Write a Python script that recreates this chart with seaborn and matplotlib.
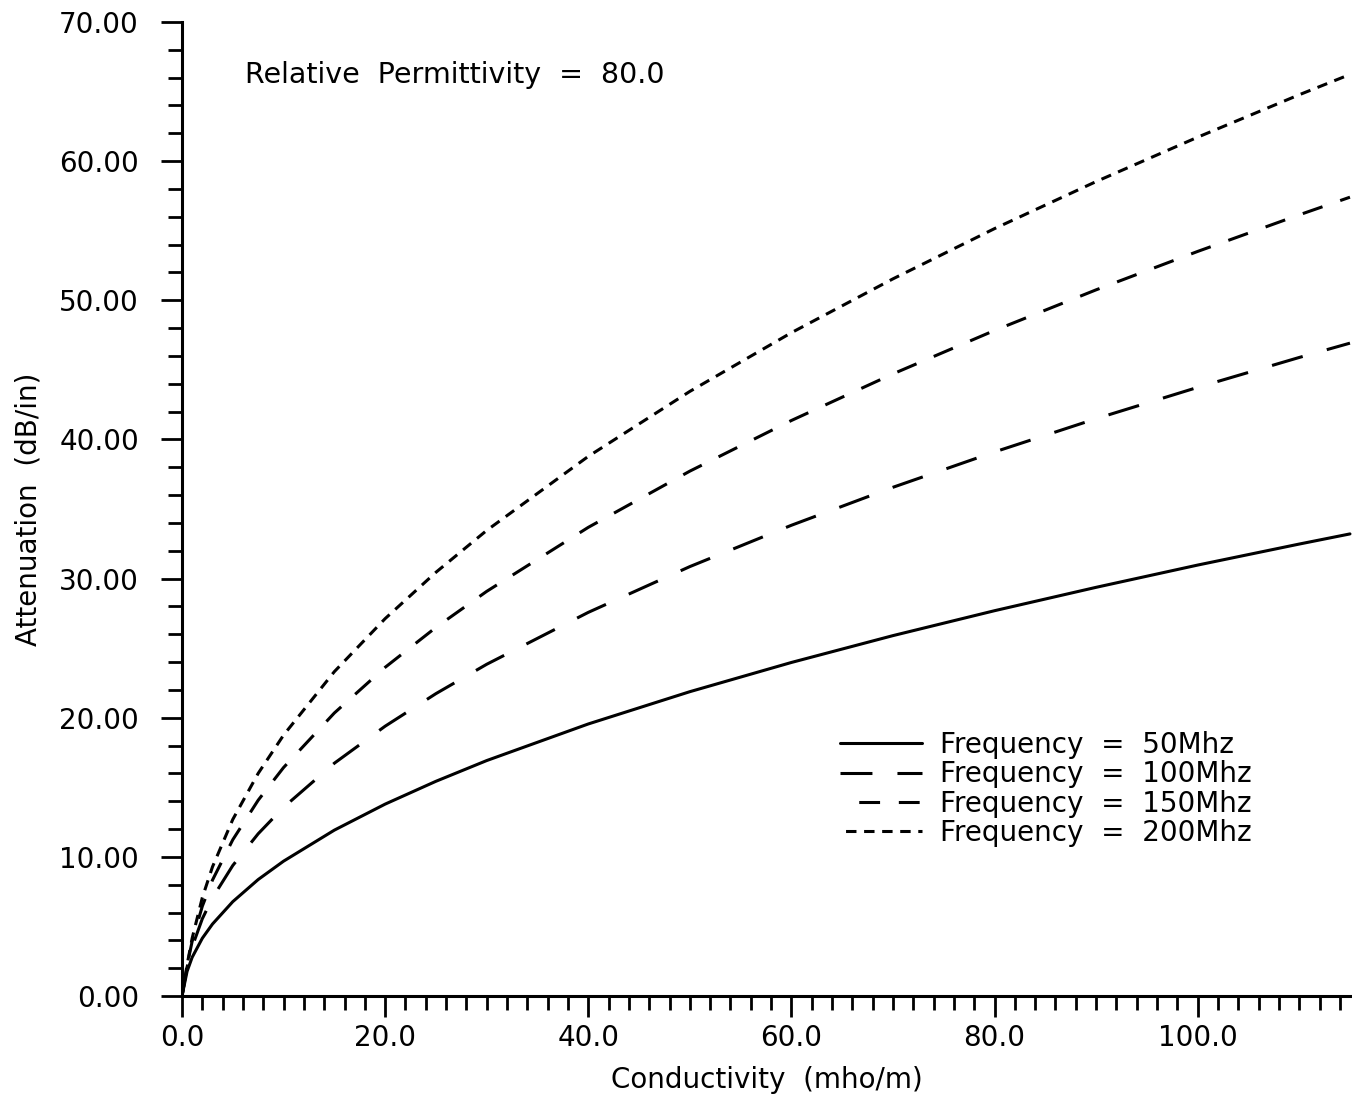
import matplotlib
matplotlib.use("Agg")
import matplotlib.pyplot as plt
import matplotlib.ticker as mticker
import numpy as np
import pandas as pd
import seaborn as sns

# ---- data ----
conductivity = [0, 0.5, 1, 2, 3, 5, 7.5, 10, 15, 20, 25, 30, 40, 50, 60, 70, 80, 90, 100, 110, 115]
att_50 = [0, 1.77, 2.78, 4.15, 5.17, 6.78, 8.37, 9.69, 11.92, 13.79, 15.43, 16.92, 19.55, 21.87,
          23.97, 25.90, 27.69, 29.37, 30.97, 32.48, 33.21]
att_100 = [0, 2.08, 3.53, 5.55, 7.05, 9.38, 11.66, 13.56, 16.73, 19.39, 21.73, 23.84, 27.57, 30.86,
           33.83, 36.56, 39.10, 41.49, 43.74, 45.89, 46.92]
att_150 = [0, 2.19, 3.93, 6.45, 8.33, 11.23, 14.07, 16.42, 20.34, 23.62, 26.49, 29.08, 33.68, 37.72,
           41.36, 44.71, 47.83, 50.75, 53.51, 56.14, 57.41]
att_200 = [0, 2.24, 4.15, 7.07, 9.28, 12.69, 16.00, 18.75, 23.31, 27.12, 30.45, 33.46, 38.78, 43.45,
           47.67, 51.54, 55.15, 58.53, 61.72, 64.77, 66.23]
series_labels = ["Frequency  =  50Mhz", "Frequency  =  100Mhz",
                 "Frequency  =  150Mhz", "Frequency  =  200Mhz"]
x_ticks = [0, 20, 40, 60, 80, 100]
y_ticks = [0, 10, 20, 30, 40, 50, 60, 70]

rows = []
for lab, vals in zip(series_labels, [att_50, att_100, att_150, att_200]):
    for c, v in zip(conductivity, vals):
        rows.append({"Conductivity": c, "Attenuation": v, "Series": lab})
df = pd.DataFrame(rows)

sns.set_theme(style="ticks")
plt.rcParams["font.family"] = ["DejaVu Sans"]
plt.rcParams["lines.scale_dashes"] = False
for k in ["text.color", "axes.labelcolor", "xtick.color", "ytick.color", "xtick.labelcolor", "ytick.labelcolor"]:
    plt.rcParams[k] = "black"

fig = plt.figure(figsize=(13.52, 10.96), dpi=100)
ax = fig.add_axes([182 / 1352, 1 - 996 / 1096, 1 - 182 / 1352, (996 - 22) / 1096])

dash_map = {
    series_labels[0]: "",
    series_labels[1]: (23, 18),
    series_labels[2]: (15, 13.5),
    series_labels[3]: (7.5, 5.5),
}
sns.lineplot(data=df, x="Conductivity", y="Attenuation", hue="Series", style="Series",
             hue_order=series_labels, style_order=series_labels,
             palette=["black"] * 4, dashes=dash_map, linewidth=2.2, ax=ax, legend=True)

ax.set_xlim(0, 115.2)
ax.set_ylim(0, 70)
ax.set_xticks(x_ticks)
ax.set_yticks(y_ticks)
ax.xaxis.set_minor_locator(mticker.MultipleLocator(2))
ax.yaxis.set_minor_locator(mticker.MultipleLocator(2))
ax.xaxis.set_major_formatter(mticker.FormatStrFormatter("%.1f"))
ax.yaxis.set_major_formatter(mticker.FormatStrFormatter("%.2f"))
ax.tick_params(axis="both", which="major", length=15, width=2.0, labelsize=20,
               color="black", labelcolor="black")
ax.tick_params(axis="both", which="minor", length=10, width=2.0, color="black")
ax.tick_params(axis="y", which="major", pad=16)
ax.tick_params(axis="x", which="major", pad=5)
for s in ["top", "right"]:
    ax.spines[s].set_visible(False)
for s in ["left", "bottom"]:
    ax.spines[s].set_linewidth(2.2)
    ax.spines[s].set_color("black")

ax.set_xlabel("Conductivity  (mho/m)", fontsize=20, labelpad=10, color="black")
ax.set_ylabel("Attenuation  (dB/in)", fontsize=20, labelpad=12, color="black")

ax.text(245 / 1352, 1 - 75 / 1096, "Relative  Permittivity  =  80.0", transform=fig.transFigure,
        fontsize=20.5, ha="left", va="center", color="black")

leg = ax.legend(loc="upper left", bbox_to_anchor=(840 / 1352, 1 - 731 / 1096),
                bbox_transform=fig.transFigure, frameon=False, fontsize=20,
                handlelength=2.95, handletextpad=0.65, labelspacing=0.05, borderpad=0,
                borderaxespad=0)
leg_lines = leg.get_lines()
for h in leg_lines:
    h.set_linewidth(2.2)
if len(leg_lines) == 4:
    leg_lines[2].set_linestyle((15, (15, 13.5)))
    leg_lines[3].set_linestyle((9, (7.5, 5.5)))
for t in leg.get_texts():
    t.set_color("black")

fig.savefig("out.png", dpi=100)
